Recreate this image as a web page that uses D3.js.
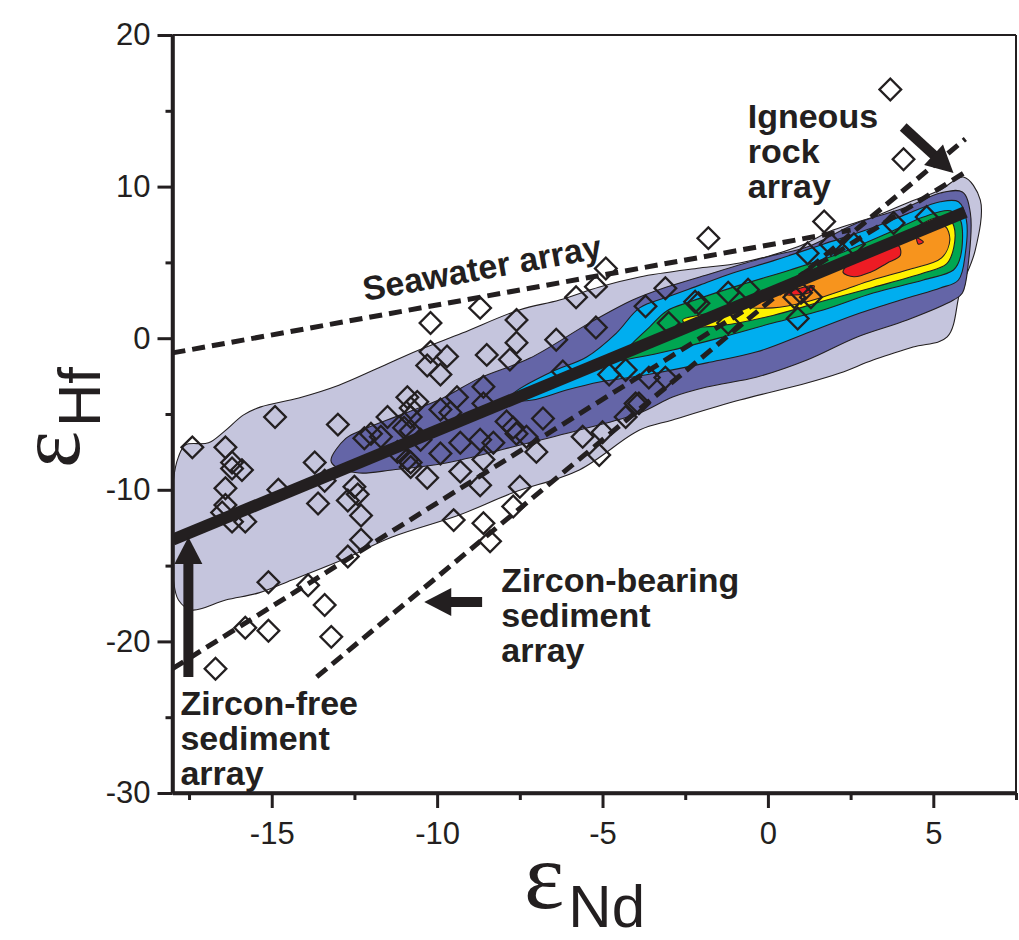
<!DOCTYPE html>
<html>
<head>
<meta charset="utf-8">
<script src="https://cdn.jsdelivr.net/npm/d3@7"></script>
<style>
  body { margin: 0; background: #fff; }
  text { fill: #231f20; }
</style>
</head>
<body>
<svg id="chart" width="1019" height="940"></svg>
<script>
// axis ticks
var xMajor = [-15, -10, -5, 0, 5];
var xMinor = [-17.5, -12.5, -7.5, -2.5, 2.5, 7.5];
var yMajor = [20, 10, 0, -10, -20, -30];
var yMinor = [15, 5, -5, -15, -25];

// density contours of the igneous rock database (eNd, eHf), outermost first
var contourLight = [[-17.61,-7.04],[-16.91,-6.90],[-16.45,-6.18],[-15.85,-5.06],[-15.33,-4.53],[-14.18,-3.94],[-12.97,-3.1],[-11.76,-1.95],[-10.55,-0.78],[-9.24,0.34],[-7.52,1.86],[-6.30,2.52],[-5.09,3.38],[-3.88,4.04],[-2.06,4.63],[-0.85,4.96],[0.88,6.01],[1.97,7.13],[3.18,7.99],[4.21,8.92],[5.21,9.78],[5.91,10.63],[6.42,9.12],[6.27,5.82],[5.82,3.18],[5.42,0.08],[4.39,-0.58],[3.18,-1.44],[2.18,-2.30],[1.18,-2.96],[-0.85,-4.08],[-2.88,-5.39],[-3.88,-6.06],[-5.70,-8.69],[-7.73,-10.21],[-9.33,-11.66],[-11.36,-13.11],[-12.88,-14.63],[-14.39,-15.95],[-15.39,-16.80],[-16.39,-17.27],[-17.42,-17.93],[-17.82,-17.27],[-17.97,-15.95],[-17.97,-9.35],[-17.82,-7.83]];
var contourDark = [[-13.21,-8.06],[-12.76,-6.61],[-12.15,-5.95],[-11.15,-5.09],[-9.85,-3.97],[-8.73,-2.65],[-7.21,-1.33],[-5.39,1.01],[-4.09,2.52],[-3.06,3.38],[-2.06,4.04],[-0.03,5.36],[1.18,6.01],[2.70,7.60],[4.21,8.65],[5.21,9.58],[5.88,9.64],[6.12,8.26],[6.06,4.96],[5.88,2.98],[5.61,2.52],[4.21,1.20],[2.70,0.08],[1.18,-1.44],[-0.33,-2.56],[-1.85,-3.22],[-2.88,-3.88],[-3.88,-4.93],[-5.70,-6.06],[-7.73,-7.18],[-9.73,-8.23],[-11.36,-8.69],[-12.36,-8.89],[-13.06,-8.49]];
var contourCyan = [[-7.73,-3.77],[-6.61,-2.29],[-5.48,-1.24],[-4.58,0.34],[-3.88,2.0],[-3.06,2.7],[-2.06,3.5],[-1.06,4.3],[0.15,5.1],[1.67,6.2],[3.18,7.3],[4.21,8.2],[5.21,9.0],[5.76,9.0],[6.0,7.8],[5.97,5.62],[5.76,3.84],[5.21,3.31],[4.21,2.65],[2.70,1.60],[1.18,0.34],[-0.33,-0.90],[-1.85,-1.63],[-3.36,-2.29],[-4.09,-2.56],[-5.09,-2.89],[-6.09,-3.42],[-7.12,-4.08],[-7.61,-4.08]];
var contourGreen = [[-4.58,-1.44],[-4.09,-0.32],[-3.58,0.73],[-3.06,1.8],[-2.36,2.4],[-0.85,3.5],[0.67,4.5],[2.18,5.6],[3.70,7.0],[4.70,8.0],[5.52,8.4],[5.82,7.8],[5.82,5.36],[5.61,4.50],[4.70,3.84],[3.18,2.98],[1.67,1.86],[0.15,1.0],[-1.36,0.08],[-2.88,-0.78],[-3.88,-1.24]];
var contourYellow = [[-2.58,1.2],[-2.06,1.53],[-1.36,1.86],[-0.33,2.8],[1.18,4.0],[2.70,5.3],[4.21,7.0],[5.0,7.9],[5.42,8.0],[5.62,7.4],[5.62,6.0],[5.40,4.9],[4.70,4.3],[3.18,3.35],[1.67,2.45],[0.15,1.5],[-1.36,0.85],[-2.36,0.8]];
var contourOrange = [[-0.55,2.1],[0.15,3.0],[1.18,3.8],[2.18,4.7],[3.18,5.7],[4.21,6.8],[5.0,7.45],[5.35,7.4],[5.5,6.5],[5.25,5.3],[4.21,4.5],[3.18,3.85],[2.18,3.1],[1.18,2.4],[0.15,2.0]];
var contourRed = [[2.27,4.35],[2.5,5.0],[3.0,5.6],[3.5,5.9],[3.95,6.1],[4.0,5.45],[3.6,4.95],[3.1,4.35],[2.6,4.05]];
var contourRed2 = [[0.5,2.9],[0.9,3.25],[1.4,3.45],[1.3,3.05],[0.8,2.85]];
var contourRed3 = [[4.5,6.6],[4.7,6.35],[4.55,6.2]];
var contours = [contourLight, contourDark, contourCyan, contourGreen, contourYellow, contourOrange, contourRed, contourRed2, contourRed3];
var contourColors = ["#c5c5dd", "#6465a7", "#00aeef", "#00a651", "#fff200", "#f7941d", "#ed1c24", "#ed1c24", "#ed1c24"];

// marine sediments (eNd, eHf)
var sediments = [
  [3.7,16.4],[4.1,11.8],[1.7,7.7],[-1.8,6.6],[1.2,5.6],[4.8,8.0],[3.8,7.6],[1.0,3.0],[1.3,2.7],[0.9,1.3],
  [-0.6,3.2],[-1.2,3.0],[2.6,6.2],[-3.1,3.3],[-3.7,2.1],[-2.1,2.3],[-3.0,1.0],[0.8,2.7],[1.9,6.2],[-3.6,-2.6],
  [-3.1,-2.6],[-3.9,-4.3],[-1.2,1.0],[-4.9,4.6],[-5.2,3.4],[-5.8,2.7],[-8.7,2.0],[-10.2,1.0],[-7.6,1.2],[-10.2,-0.9],
  [-9.7,-1.2],[-10.3,-1.8],[-9.9,-2.4],[-8.5,-1.1],[-7.6,-0.3],[-7.8,-1.4],[-6.4,-0.1],[-5.2,0.7],[-2.2,2.4],[-4.8,-2.4],
  [-4.3,-2.1],[-6.2,-2.2],[-10.9,-3.9],[-10.6,-4.2],[-9.4,-3.9],[-9.9,-4.7],[-8.6,-3.2],[-8.6,-4.3],[-7.9,-5.5],[-7.6,-6.3],
  [-6.8,-5.3],[-5.6,-6.5],[-5.0,-6.2],[-4.3,-5.2],[-4.0,-4.3],[-11.5,-5.2],[-10.8,-5.2],[-11.7,-6.5],[-10.8,-6.1],[-10.5,-6.7],
  [-9.9,-7.6],[-10.8,-8.2],[-10.3,-9.2],[-9.3,-6.9],[-8.7,-6.7],[-8.3,-6.9],[-9.3,-8.8],[-8.6,-8.0],[-8.7,-9.7],[-7.7,-5.9],
  [-7.0,-7.5],[-7.3,-6.5],[-7.5,-9.8],[-7.7,-11.1],[-9.5,-12.0],[-8.6,-12.2],[-8.4,-13.4],[-5.1,-7.7],[-17.4,-7.2],[-16.4,-7.2],
  [-16.2,-8.2],[-16.2,-8.6],[-15.9,-8.7],[-16.4,-9.9],[-16.4,-11.0],[-16.5,-11.5],[-16.2,-12.1],[-15.8,-12.1],[-14.9,-5.2],[-13.0,-5.7],
  [-13.7,-8.2],[-14.8,-10.0],[-13.6,-10.9],[-13.4,-9.4],[-12.7,-10.7],[-12.5,-9.8],[-12.4,-10.3],[-12.3,-11.7],[-12.3,-13.3],[-12.7,-14.4],
  [-15.1,-16.1],[-13.9,-16.3],[-13.4,-17.6],[-15.8,-19.1],[-15.1,-19.3],[-13.2,-19.7],[-16.7,-21.8],[-12.2,-6.6],[-12.0,-6.3],[-10.8,-4.6],
  [-11.0,-5.9],[-11.2,-7.5],[-10.9,-8.0],[-10.8,-8.5],[-9.6,-4.9]
];

// reference arrays (two end points each)
var zirconFreeArray = [[-18, -13.3], [5.97, 8.32]];
var seawaterArray = [[-18, -0.97], [2.5, 7.13]];
var igneousArray = [[-18, -21.8], [6.0, 11.0]];
var zirconBearingArray = [[-13.64, -22.34], [5.97, 13.14]];

// annotation arrows [tail, tip]
var arrows = [
  [[4.09, 13.93], [5.61, 10.9]],
  [[-17.52, -22.35], [-17.52, -13.11]],
  [[-8.64, -17.4], [-10.39, -17.4]]
];
var labels = [
  { at: [-0.61, 13.87], lines: ["Igneous", "rock", "array"] },
  { at: [-8.06, -16.74], lines: ["Zircon-bearing", "sediment", "array"] },
  { at: [-17.76, -24.85], lines: ["Zircon-free", "sediment", "array"] }
];
var seawaterLabel = { at: [-12.18, 2.45], text: "Seawater array" };

var ink = "#231f20";
var svg = d3.select("#chart");
var x = d3.scaleLinear().domain([-18, 7.5]).range([172.5, 1016]);
var y = d3.scaleLinear().domain([-30, 20]).range([793, 35]);

svg.append("defs").append("clipPath").attr("id", "plot")
  .append("rect")
  .attr("x", x(-18)).attr("y", y(20))
  .attr("width", x(7.5) - x(-18)).attr("height", y(-30) - y(20));

var plot = svg.append("g").attr("clip-path", "url(#plot)");

var shape = d3.line()
  .x(function(d) { return x(d[0]); })
  .y(function(d) { return y(d[1]); })
  .curve(d3.curveCatmullRomClosed.alpha(0.5));

plot.selectAll("path.contour")
  .data(contours)
  .enter().append("path")
  .attr("class", "contour")
  .attr("d", shape)
  .attr("fill", function(d, i) { return contourColors[i]; })
  .attr("stroke", ink)
  .attr("stroke-width", 1.1);

var straight = d3.line()
  .x(function(d) { return x(d[0]); })
  .y(function(d) { return y(d[1]); });

plot.selectAll("path.dashed")
  .data([seawaterArray, igneousArray, zirconBearingArray])
  .enter().append("path")
  .attr("class", "dashed")
  .attr("d", straight)
  .attr("fill", "none")
  .attr("stroke", ink)
  .attr("stroke-width", 5)
  .attr("stroke-dasharray", "13 7");

plot.selectAll("path.diamond")
  .data(sediments)
  .enter().append("path")
  .attr("class", "diamond")
  .attr("d", d3.symbol().type(d3.symbolSquare).size(235))
  .attr("transform", function(d) { return `translate(${x(d[0])},${y(d[1])}) rotate(45)`; })
  .attr("fill", "none")
  .attr("stroke", ink)
  .attr("stroke-width", 2.3);

plot.append("path")
  .attr("d", straight(zirconFreeArray))
  .attr("stroke", ink)
  .attr("stroke-width", 12)
  .attr("fill", "none");

// arrows: shaft plus triangular head
arrows.forEach(function(a) {
  var x0 = x(a[0][0]), y0 = y(a[0][1]), x1 = x(a[1][0]), y1 = y(a[1][1]);
  var len = Math.hypot(x1 - x0, y1 - y0), ux = (x1 - x0) / len, uy = (y1 - y0) / len;
  var head = 27, half = 14;
  var bx = x1 - ux * head, by = y1 - uy * head;
  svg.append("line")
    .attr("x1", x0).attr("y1", y0).attr("x2", bx + ux * 2).attr("y2", by + uy * 2)
    .attr("stroke", ink).attr("stroke-width", 10);
  svg.append("path")
    .attr("d", `M${x1},${y1}L${bx - uy * half},${by + ux * half}L${bx + uy * half},${by - ux * half}Z`)
    .attr("fill", ink);
});

labels.forEach(function(l) {
  var t = svg.append("text")
    .attr("x", x(l.at[0])).attr("y", y(l.at[1]))
    .attr("font-family", "Liberation Sans, Arial, sans-serif")
    .attr("font-weight", "bold")
    .attr("font-size", 34);
  t.selectAll("tspan").data(l.lines).enter().append("tspan")
    .attr("x", x(l.at[0]))
    .attr("dy", function(d, i) { return i === 0 ? 0 : 35; })
    .text(function(d) { return d; });
});

svg.append("text")
  .attr("transform", `translate(${x(seawaterLabel.at[0])},${y(seawaterLabel.at[1])}) rotate(-10.3)`)
  .attr("font-family", "Liberation Sans, Arial, sans-serif")
  .attr("font-weight", "bold")
  .attr("font-size", 34)
  .text(seawaterLabel.text);

// frame and axes
svg.append("line").attr("x1", x(-18)).attr("x2", x(7.5)).attr("y1", y(20)).attr("y2", y(20))
  .attr("stroke", ink).attr("stroke-width", 2);
svg.append("line").attr("x1", x(7.5)).attr("x2", x(7.5)).attr("y1", y(20)).attr("y2", y(-30))
  .attr("stroke", ink).attr("stroke-width", 2);

var plain = function(d) { return String(d); };
var xAxis = svg.append("g").attr("transform", `translate(0,${y(-30)})`)
  .call(d3.axisBottom(x).tickValues(xMajor).tickSize(15).tickSizeOuter(0).tickPadding(14).tickFormat(plain));
var xAxisMinor = svg.append("g").attr("transform", `translate(0,${y(-30)})`)
  .call(d3.axisBottom(x).tickValues(xMinor).tickSize(7).tickSizeOuter(0).tickFormat(""));
var yAxis = svg.append("g").attr("transform", `translate(${x(-18)},0)`)
  .call(d3.axisLeft(y).tickValues(yMajor).tickSize(15).tickSizeOuter(0).tickPadding(7).tickFormat(plain));
var yAxisMinor = svg.append("g").attr("transform", `translate(${x(-18)},0)`)
  .call(d3.axisLeft(y).tickValues(yMinor).tickSize(7).tickSizeOuter(0).tickFormat(""));

[xAxis, xAxisMinor, yAxis, yAxisMinor].forEach(function(g) {
  g.select(".domain").attr("stroke", ink).attr("stroke-width", 3.5);
  g.selectAll(".tick line").attr("stroke", ink).attr("stroke-width", 3);
  g.selectAll(".tick text")
    .attr("font-family", "Liberation Sans, Arial, sans-serif")
    .attr("font-size", 31)
    .attr("fill", ink);
});
xAxis.select(".domain").attr("d", `M${x(-18)},0H${x(7.5)}`);
yAxis.select(".domain").attr("d", `M0,${y(-30)}V${y(20)}`);

// axis titles: epsilon with subscript
var xt = svg.append("text").attr("x", 524).attr("y", 908);
xt.append("tspan").attr("font-family", "Liberation Serif, serif").attr("font-size", 96).text("ε");
xt.append("tspan").attr("font-family", "Liberation Sans, Arial, sans-serif").attr("font-size", 60)
  .attr("dy", 19).attr("dx", 4).text("Nd");

var yt = svg.append("text").attr("transform", "translate(79,468) rotate(-90)");
yt.append("tspan").attr("font-family", "Liberation Serif, serif").attr("font-size", 88).text("ε");
yt.append("tspan").attr("font-family", "Liberation Sans, Arial, sans-serif").attr("font-size", 60)
  .attr("dy", 21).attr("dx", 4).text("Hf");
</script>
</body>
</html>
